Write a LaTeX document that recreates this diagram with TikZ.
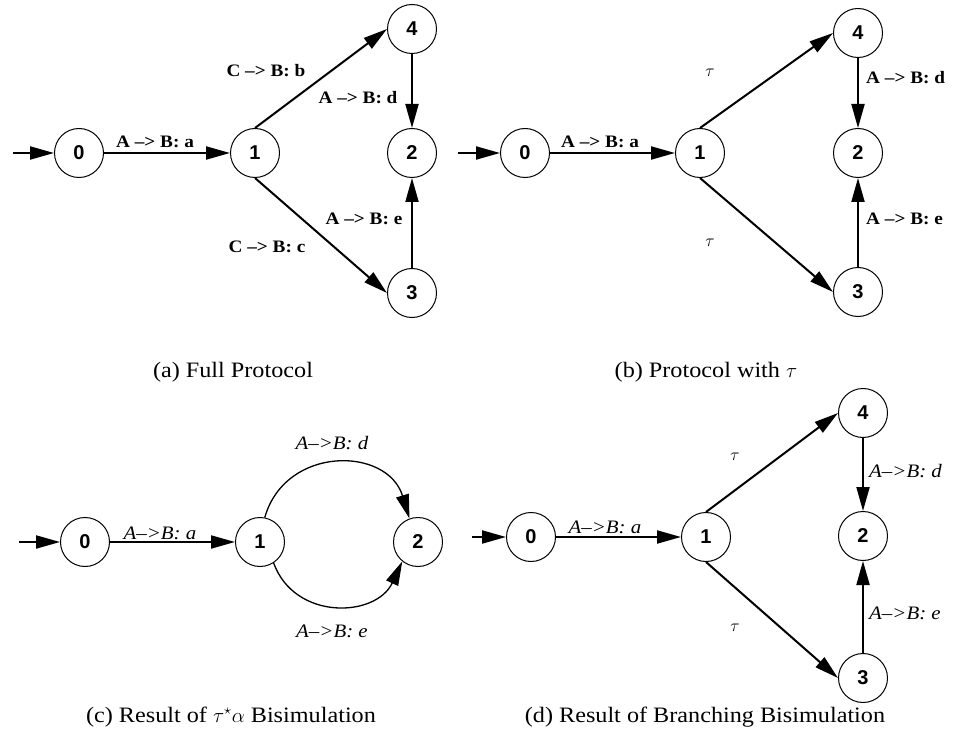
\documentclass[tikz,border=0pt]{standalone}
\usepackage{fontspec}
\usetikzlibrary{arrows.meta}
\newfontfamily\lblfont{Liberation Serif}[FakeStretch=1.1]
\newfontfamily\numfont{Liberation Sans}
\tikzset{
  state/.style={circle, draw, line width=1pt, minimum size=49pt, inner sep=0pt,
    font=\numfont\bfseries\fontsize{20}{23}\selectfont},
  edge/.style={line width=2pt, -{Triangle[length=24pt,width=13pt]}},
  arcedge/.style={line width=1.3pt, -{Triangle[length=24pt,width=13pt]}},
  lbl/.style={font=\lblfont\bfseries\fontsize{17.5}{20}\selectfont, inner sep=0pt},
  ilbl/.style={font=\lblfont\itshape\fontsize{19}{22}\selectfont, inner sep=0pt},
  tlbl/.style={font=\fontsize{17}{20}\selectfont, inner sep=0pt},
  captiontext/.style={font=\lblfont\fontsize{22}{26}\selectfont, inner sep=0pt}
}
\begin{document}
\begin{tikzpicture}[x=1pt,y=1pt]
\useasboundingbox (0,0) rectangle (956,-746);

% (a) full protocol
\coordinate (ai) at (13,-153);
\node[state] (a0) at (79,-153) {0};
\node[state] (a1) at (255,-153) {1};
\node[state] (a4) at (412,-29) {4};
\node[state] (a2) at (412,-153) {2};
\node[state] (a3) at (412,-293) {3};
\draw[edge] (ai) -- (a0);
\draw[edge] (a0) -- (a1);
\draw[edge] (a1.north) -- (a4.west);
\draw[edge] (a1.south) -- (a3.west);
\draw[edge] (a4) -- (a2);
\draw[edge] (a3) -- (a2);
\node[lbl, anchor=base] (la01) at (155,-148) {A –> B: a};
\node[lbl, anchor=base] (la14) at (266,-77) {C –> B: b};
\node[lbl, anchor=base] (la42) at (358,-104) {A –> B: d};
\node[lbl, anchor=base] (la32) at (364,-225) {A –> B: e};
\node[lbl, anchor=base] (la13) at (267,-252) {C –> B: c};
\node[captiontext] (capa) at (233,-372) {(a) Full Protocol};

% (b) protocol with tau
\coordinate (bi) at (458,-153);
\node[state] (b0) at (525,-153) {0};
\node[state] (b1) at (700,-153) {1};
\node[state] (b4) at (858,-33) {4};
\node[state] (b2) at (858,-153) {2};
\node[state] (b3) at (858,-292) {3};
\draw[edge] (bi) -- (b0);
\draw[edge] (b0) -- (b1);
\draw[edge] (b1.north) -- (b4.west);
\draw[edge] (b1.south) -- (b3.west);
\draw[edge] (b4) -- (b2);
\draw[edge] (b3) -- (b2);
\node[lbl, anchor=base] (lb01) at (600,-148) {A –> B: a};
\node[tlbl] (lb14) at (710,-73) {$\tau$};
\node[tlbl] (lb13) at (710,-243) {$\tau$};
\node[lbl, anchor=base west] (lb42) at (866,-84) {A –> B: d};
\node[lbl, anchor=base west] (lb32) at (866,-225) {A –> B: e};
\node[captiontext] (capb) at (706,-372) {(b) Protocol with $\tau$};

% (c) tau* alpha bisimulation
\coordinate (ci) at (19,-542);
\node[state] (c0) at (85,-542) {0};
\node[state] (c1) at (260,-542) {1};
\node[state] (c2) at (418,-542) {2};
\draw[edge] (ci) -- (c0);
\draw[edge] (c0) -- (c1);
\draw[arcedge] (c1.79) to[out=74, in=107, looseness=1.33] (c2.110);
\draw[arcedge] (c1.-57) to[out=-70, in=-115, looseness=1.23] (c2.-129);
\node[ilbl, anchor=base] (lc01) at (160,-539) {A–>B: a};
\node[ilbl, anchor=base] (lc12d) at (332,-449) {A–>B: d};
\node[ilbl, anchor=base] (lc12e) at (332,-637) {A–>B: e};
\node[captiontext] (capc) at (231,-717) {(c) Result of $\tau^{\star}\alpha$ Bisimulation};

% (d) branching bisimulation
\coordinate (di) at (472,-537);
\node[state] (d0) at (531,-537) {0};
\node[state] (d1) at (706,-537) {1};
\node[state] (d4) at (863,-413) {4};
\node[state] (d2) at (863,-536) {2};
\node[state] (d3) at (863,-678) {3};
\draw[edge] (di) -- (d0);
\draw[edge] (d0) -- (d1);
\draw[edge] (d1.north) -- (d4.west);
\draw[edge] (d1.south) -- (d3.west);
\draw[edge] (d4) -- (d2);
\draw[edge] (d3) -- (d2);
\node[ilbl, anchor=base] (ld01) at (605,-533) {A–>B: a};
\node[tlbl] (ld14) at (735,-457) {$\tau$};
\node[tlbl] (ld13) at (735,-628) {$\tau$};
\node[ilbl, anchor=base west] (ld42) at (869,-477) {A–>B: d};
\node[ilbl, anchor=base west] (ld32) at (869,-619) {A–>B: e};
\node[captiontext] (capd) at (705,-717) {(d) Result of Branching Bisimulation};
\end{tikzpicture}
\end{document}
